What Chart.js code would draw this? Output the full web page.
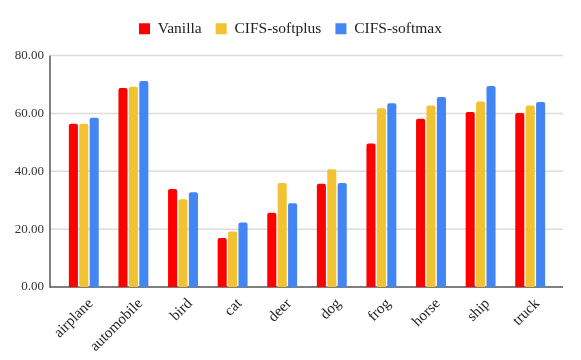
<!DOCTYPE html>
<html>
<head>
<meta charset="utf-8">
<script src="https://cdn.jsdelivr.net/npm/chart.js"></script>
<style>
  html, body { margin: 0; padding: 0; background: #fff; }
  #wrap { width: 581px; height: 360px; }
</style>
</head>
<body>
<div id="wrap"><canvas id="chart" width="581" height="360"></canvas></div>
<script>
const categories = ['airplane', 'automobile', 'bird', 'cat', 'deer', 'dog', 'frog', 'horse', 'ship', 'truck']
const vanilla = [56.4, 68.8, 33.9, 16.9, 25.7, 35.7, 49.6, 58.1, 60.5, 60.1]
const softplus = [56.4, 69.2, 30.3, 19.2, 35.9, 40.7, 61.8, 62.7, 64.1, 62.7]
const softmax = [58.5, 71.2, 32.7, 22.3, 28.9, 35.9, 63.5, 65.7, 69.5, 63.9]
const yTicks = [0, 20, 40, 60, 80]

const serif = "'Liberation Serif', 'Times New Roman', serif"

// grid and axis lines run a bit past the bar area, like the sheet export
const gridLines = {
  id: 'gridLines',
  beforeDatasetsDraw(chart) {
    const { ctx, chartArea, scales } = chart
    const left = chartArea.left - 9
    const right = chartArea.right + 8
    ctx.save()
    yTicks.forEach(v => {
      const y = scales.y.getPixelForValue(v)
      ctx.beginPath()
      ctx.lineWidth = 1.5
      ctx.strokeStyle = v === 0 ? '#555555' : '#dcdcdc'
      ctx.moveTo(left, y)
      ctx.lineTo(right, y)
      ctx.stroke()
    })
    ctx.beginPath()
    ctx.lineWidth = 1.5
    ctx.strokeStyle = '#555555'
    ctx.moveTo(left, scales.y.getPixelForValue(80))
    ctx.lineTo(left, scales.y.getPixelForValue(0) + 0.75)
    ctx.stroke()
    ctx.restore()
  }
}

// more room under the legend, and center it on the whole canvas
const legendFix = {
  id: 'legendFix',
  beforeInit(chart) {
    const fit = chart.legend.fit
    chart.legend.fit = function () {
      fit.bind(chart.legend)()
      this.height += 9
    }
  },
  afterLayout(chart) {
    chart.legend.left = 0
    chart.legend.right = chart.width
    chart.legend.width = chart.width
  }
}

const bar = (label, data, color) => ({
  label: label,
  data: data,
  backgroundColor: color,
  borderRadius: 2,
  categoryPercentage: 0.63,
  barPercentage: 0.87
})

new Chart(document.getElementById('chart'), {
  type: 'bar',
  data: {
    labels: categories,
    datasets: [
      bar('Vanilla', vanilla, '#ff0000'),
      bar('CIFS-softplus', softplus, '#f1c232'),
      bar('CIFS-softmax', softmax, '#4285f4')
    ]
  },
  options: {
    responsive: false,
    animation: false,
    layout: { padding: { top: 7, right: 26, bottom: 0, left: 0 } },
    plugins: {
      legend: {
        position: 'top',
        labels: {
          boxWidth: 11,
          boxHeight: 11,
          padding: 14,
          color: '#222',
          font: { family: serif, size: 15.5 }
        }
      },
      tooltip: { enabled: false }
    },
    scales: {
      x: {
        grid: { display: false, drawTicks: false },
        border: { display: false },
        afterFit: s => { s.height = 73 },
        ticks: {
          minRotation: 45,
          maxRotation: 45,
          padding: 8,
          labelOffset: 7,
          color: '#222',
          font: { family: serif, size: 15 }
        }
      },
      y: {
        min: 0,
        max: 80,
        afterFit: s => { s.width = 59 },
        afterBuildTicks: s => { s.ticks = yTicks.map(v => ({ value: v })) },
        grid: { display: false, drawTicks: false },
        border: { display: false },
        ticks: {
          padding: 15,
          color: '#333',
          font: { family: serif, size: 13 },
          callback: v => v.toFixed(2)
        }
      }
    }
  },
  plugins: [gridLines, legendFix]
})
</script>
</body>
</html>
